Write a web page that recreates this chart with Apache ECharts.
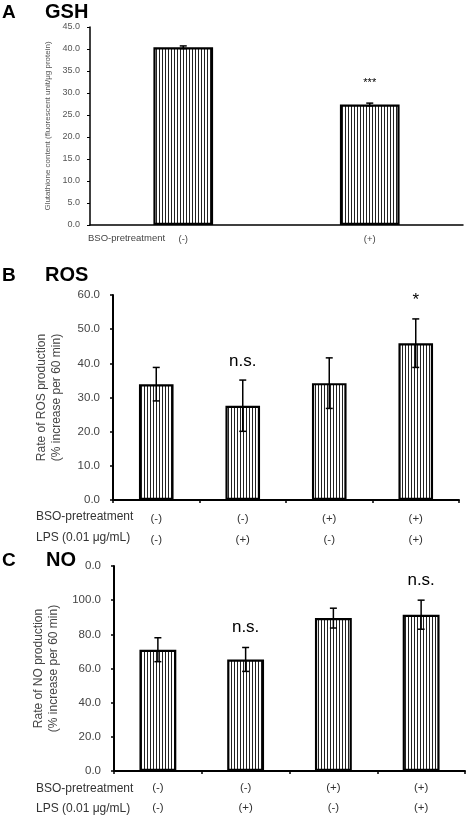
<!DOCTYPE html>
<html>
<head>
<meta charset="utf-8">
<script src="https://cdn.jsdelivr.net/npm/echarts@6.0.0/dist/echarts.min.js"></script>
<style>
html,body{margin:0;padding:0;background:#fff;}
#chart{width:472px;height:818px;}
</style>
</head>
<body>
<div id="chart"></div>
<script>
// ---- Data ----
// Panel A: GSH
const gshCategories = ['(-)', '(+)'];
const gshValues = [40.4, 27.4];
const gshErrors = [0.3, 0.3];
const gshMarks = ['', '***'];
const gshTicks = ['0.0','5.0','10.0','15.0','20.0','25.0','30.0','35.0','40.0','45.0'];

// Panel B: ROS
const rosBSO = ['(-)', '(-)', '(+)', '(+)'];
const rosLPS = ['(-)', '(+)', '(-)', '(+)'];
const rosValues = [33.9, 27.6, 34.2, 45.9];
const rosErrors = [4.9, 7.5, 7.4, 7.1];
const rosMarks = ['', 'n.s.', '', '*'];
const rosTicks = ['0.0','10.0','20.0','30.0','40.0','50.0','60.0'];

// Panel C: NO
const noBSO = ['(-)', '(-)', '(+)', '(+)'];
const noLPS = ['(-)', '(+)', '(-)', '(+)'];
const noValues = [71.0, 65.3, 89.5, 91.5];
const noErrors = [7.0, 7.0, 5.8, 8.5];
const noMarks = ['', 'n.s.', '', 'n.s.'];
// top label appears truncated to "0.0" in the reference
const noTicks = ['0.0','20.0','40.0','60.0','80.0','100.0','0.0'];

// ---- Styles ----
const FONT = 'Liberation Sans, Arial, sans-serif';
function stripePattern() {
  const c = document.createElement('canvas');
  c.width = 3; c.height = 4;
  const ctx = c.getContext('2d');
  ctx.fillStyle = '#fff';
  ctx.fillRect(0, 0, 3, 4);
  ctx.fillStyle = '#222';
  ctx.fillRect(0, 0, 1, 4);
  return c;
}
const pattern = { image: stripePattern(), repeat: 'repeat' };

function errSeries(gridIdx, values, errors, marks, markFont, markSize, offset) {
  return {
    type: 'custom',
    xAxisIndex: gridIdx, yAxisIndex: gridIdx,
    z: 10,
    data: values.map((v, i) => [i, v, errors[i]]),
    encode: { x: 0, y: 1 },
    renderItem: function (params, api) {
      const x = api.value(0), v = api.value(1), e = api.value(2);
      const top = api.coord([x, v + e]);
      const bot = api.coord([x, v - e]);
      const hw = 3.5;
      const st = { stroke: '#000', lineWidth: 1.5 };
      const children = [
        { type: 'line', shape: { x1: top[0], y1: top[1], x2: bot[0], y2: bot[1] }, style: st },
        { type: 'line', shape: { x1: top[0] - hw, y1: top[1], x2: top[0] + hw, y2: top[1] }, style: st },
        { type: 'line', shape: { x1: bot[0] - hw, y1: bot[1], x2: bot[0] + hw, y2: bot[1] }, style: st }
      ];
      const m = marks[params.dataIndex];
      if (m) {
        children.push({
          type: 'text',
          style: {
            text: m, x: top[0], y: top[1] - offset,
            align: 'center', verticalAlign: 'middle',
            fontFamily: FONT, fontSize: markSize, fill: '#000'
          }
        });
      }
      return { type: 'group', children: children };
    }
  };
}

function barSeries(gridIdx, values, width) {
  return {
    type: 'bar',
    xAxisIndex: gridIdx, yAxisIndex: gridIdx,
    data: values,
    barWidth: width,
    itemStyle: { color: pattern, borderColor: '#000', borderWidth: 2.2 },
    silent: true
  };
}

const axisLineStyle = (w) => ({ show: true, lineStyle: { color: '#000', width: w } });

const option = {
  animation: false,
  backgroundColor: '#fff',
  grid: [
    { left: 90, top: 27, width: 373, height: 198 },
    { left: 113, top: 295, width: 346, height: 205 },
    { left: 114, top: 566, width: 351, height: 207 }
  ],
  xAxis: [
    {
      type: 'category', gridIndex: 0, data: gshCategories,
      axisLine: axisLineStyle(1.5), axisTick: { show: false },
      axisLabel: { fontFamily: FONT, fontSize: 9.5, color: '#444', margin: 9 }
    },
    {
      type: 'category', gridIndex: 1, data: rosBSO.map((b, i) => b + '|' + rosLPS[i]),
      axisLine: axisLineStyle(2),
      axisTick: { show: true, inside: false, length: 3, lineStyle: { color: '#000', width: 1.5 } },
      axisLabel: {
        fontFamily: FONT, fontSize: 11.5, color: '#333', margin: 8, lineHeight: 21, verticalAlign: 'top',
        formatter: (v, i) => rosBSO[i] + '\n' + rosLPS[i]
      }
    },
    {
      type: 'category', gridIndex: 2, data: noBSO.map((b, i) => b + '|' + noLPS[i]),
      axisLine: axisLineStyle(2),
      axisTick: { show: true, inside: false, length: 3, lineStyle: { color: '#000', width: 1.5 } },
      axisLabel: {
        fontFamily: FONT, fontSize: 11.5, color: '#333', margin: 7, lineHeight: 20, verticalAlign: 'top',
        formatter: (v, i) => noBSO[i] + '\n' + noLPS[i]
      }
    }
  ],
  yAxis: [
    {
      type: 'value', gridIndex: 0, min: 0, max: 45, interval: 5,
      axisLine: axisLineStyle(1.5),
      axisTick: { show: true, length: 3, lineStyle: { color: '#000', width: 1 } },
      splitLine: { show: false },
      axisLabel: { fontFamily: FONT, fontSize: 9, color: '#555', margin: 10,
        formatter: (v) => gshTicks[Math.round(v / 5)] },
      name: 'Glutathione content (fluorescent unit/\u03bcg protein)',
      nameLocation: 'middle', nameGap: 38,
      nameTextStyle: { fontFamily: FONT, fontSize: 8, color: '#555' }
    },
    {
      type: 'value', gridIndex: 1, min: 0, max: 60, interval: 10,
      axisLine: axisLineStyle(2),
      axisTick: { show: true, length: 3, lineStyle: { color: '#000', width: 1.5 } },
      splitLine: { show: false },
      axisLabel: { fontFamily: FONT, fontSize: 11.5, color: '#444', margin: 13,
        formatter: (v) => rosTicks[Math.round(v / 10)] },
      name: 'Rate of ROS production\n(% increase per 60 min)',
      nameLocation: 'middle', nameGap: 49,
      nameTextStyle: { fontFamily: FONT, fontSize: 12, color: '#444', lineHeight: 15 }
    },
    {
      type: 'value', gridIndex: 2, min: 0, max: 120, interval: 20,
      axisLine: axisLineStyle(2),
      axisTick: { show: true, length: 3, lineStyle: { color: '#000', width: 1.5 } },
      splitLine: { show: false },
      axisLabel: { fontFamily: FONT, fontSize: 11.5, color: '#444', margin: 13,
        formatter: (v) => noTicks[Math.round(v / 20)] },
      name: 'Rate of NO production\n(% increase per 60 min)',
      nameLocation: 'middle', nameGap: 50,
      nameTextStyle: { fontFamily: FONT, fontSize: 12, color: '#444', lineHeight: 15 }
    }
  ],
  series: [
    barSeries(0, gshValues, '32%'),
    errSeries(0, gshValues, gshErrors, gshMarks, FONT, 11, 20),
    barSeries(1, rosValues, '40%'),
    errSeries(1, rosValues, rosErrors, rosMarks, FONT, 17, 19),
    barSeries(2, noValues, '42%'),
    errSeries(2, noValues, noErrors, noMarks, FONT, 17, 20)
  ],
  graphic: [
    { type: 'text', left: 2, top: 3, style: { text: 'A', font: 'bold 19px ' + FONT, fill: '#000' } },
    { type: 'text', left: 45, top: 2, style: { text: 'GSH', font: 'bold 20px ' + FONT, fill: '#000' } },
    { type: 'text', left: 2, top: 266, style: { text: 'B', font: 'bold 19px ' + FONT, fill: '#000' } },
    { type: 'text', left: 45, top: 265, style: { text: 'ROS', font: 'bold 20px ' + FONT, fill: '#000' } },
    { type: 'text', left: 2, top: 551, style: { text: 'C', font: 'bold 19px ' + FONT, fill: '#000' } },
    { type: 'text', left: 46, top: 550, style: { text: 'NO', font: 'bold 20px ' + FONT, fill: '#000' } },
    { type: 'text', left: 88, top: 233, style: { text: 'BSO-pretreatment', font: '9.5px ' + FONT, fill: '#444' } },
    { type: 'text', left: 36, top: 511, style: { text: 'BSO-pretreatment', font: '12px ' + FONT, fill: '#333' } },
    { type: 'text', left: 36, top: 532, style: { text: 'LPS (0.01 \u03bcg/mL)', font: '12px ' + FONT, fill: '#333' } },
    { type: 'text', left: 36, top: 783, style: { text: 'BSO-pretreatment', font: '12px ' + FONT, fill: '#333' } },
    { type: 'text', left: 36, top: 803, style: { text: 'LPS (0.01 \u03bcg/mL)', font: '12px ' + FONT, fill: '#333' } }
  ]
};

const chart = echarts.init(document.getElementById('chart'), null, { renderer: 'canvas' });
chart.setOption(option);
</script>
</body>
</html>
